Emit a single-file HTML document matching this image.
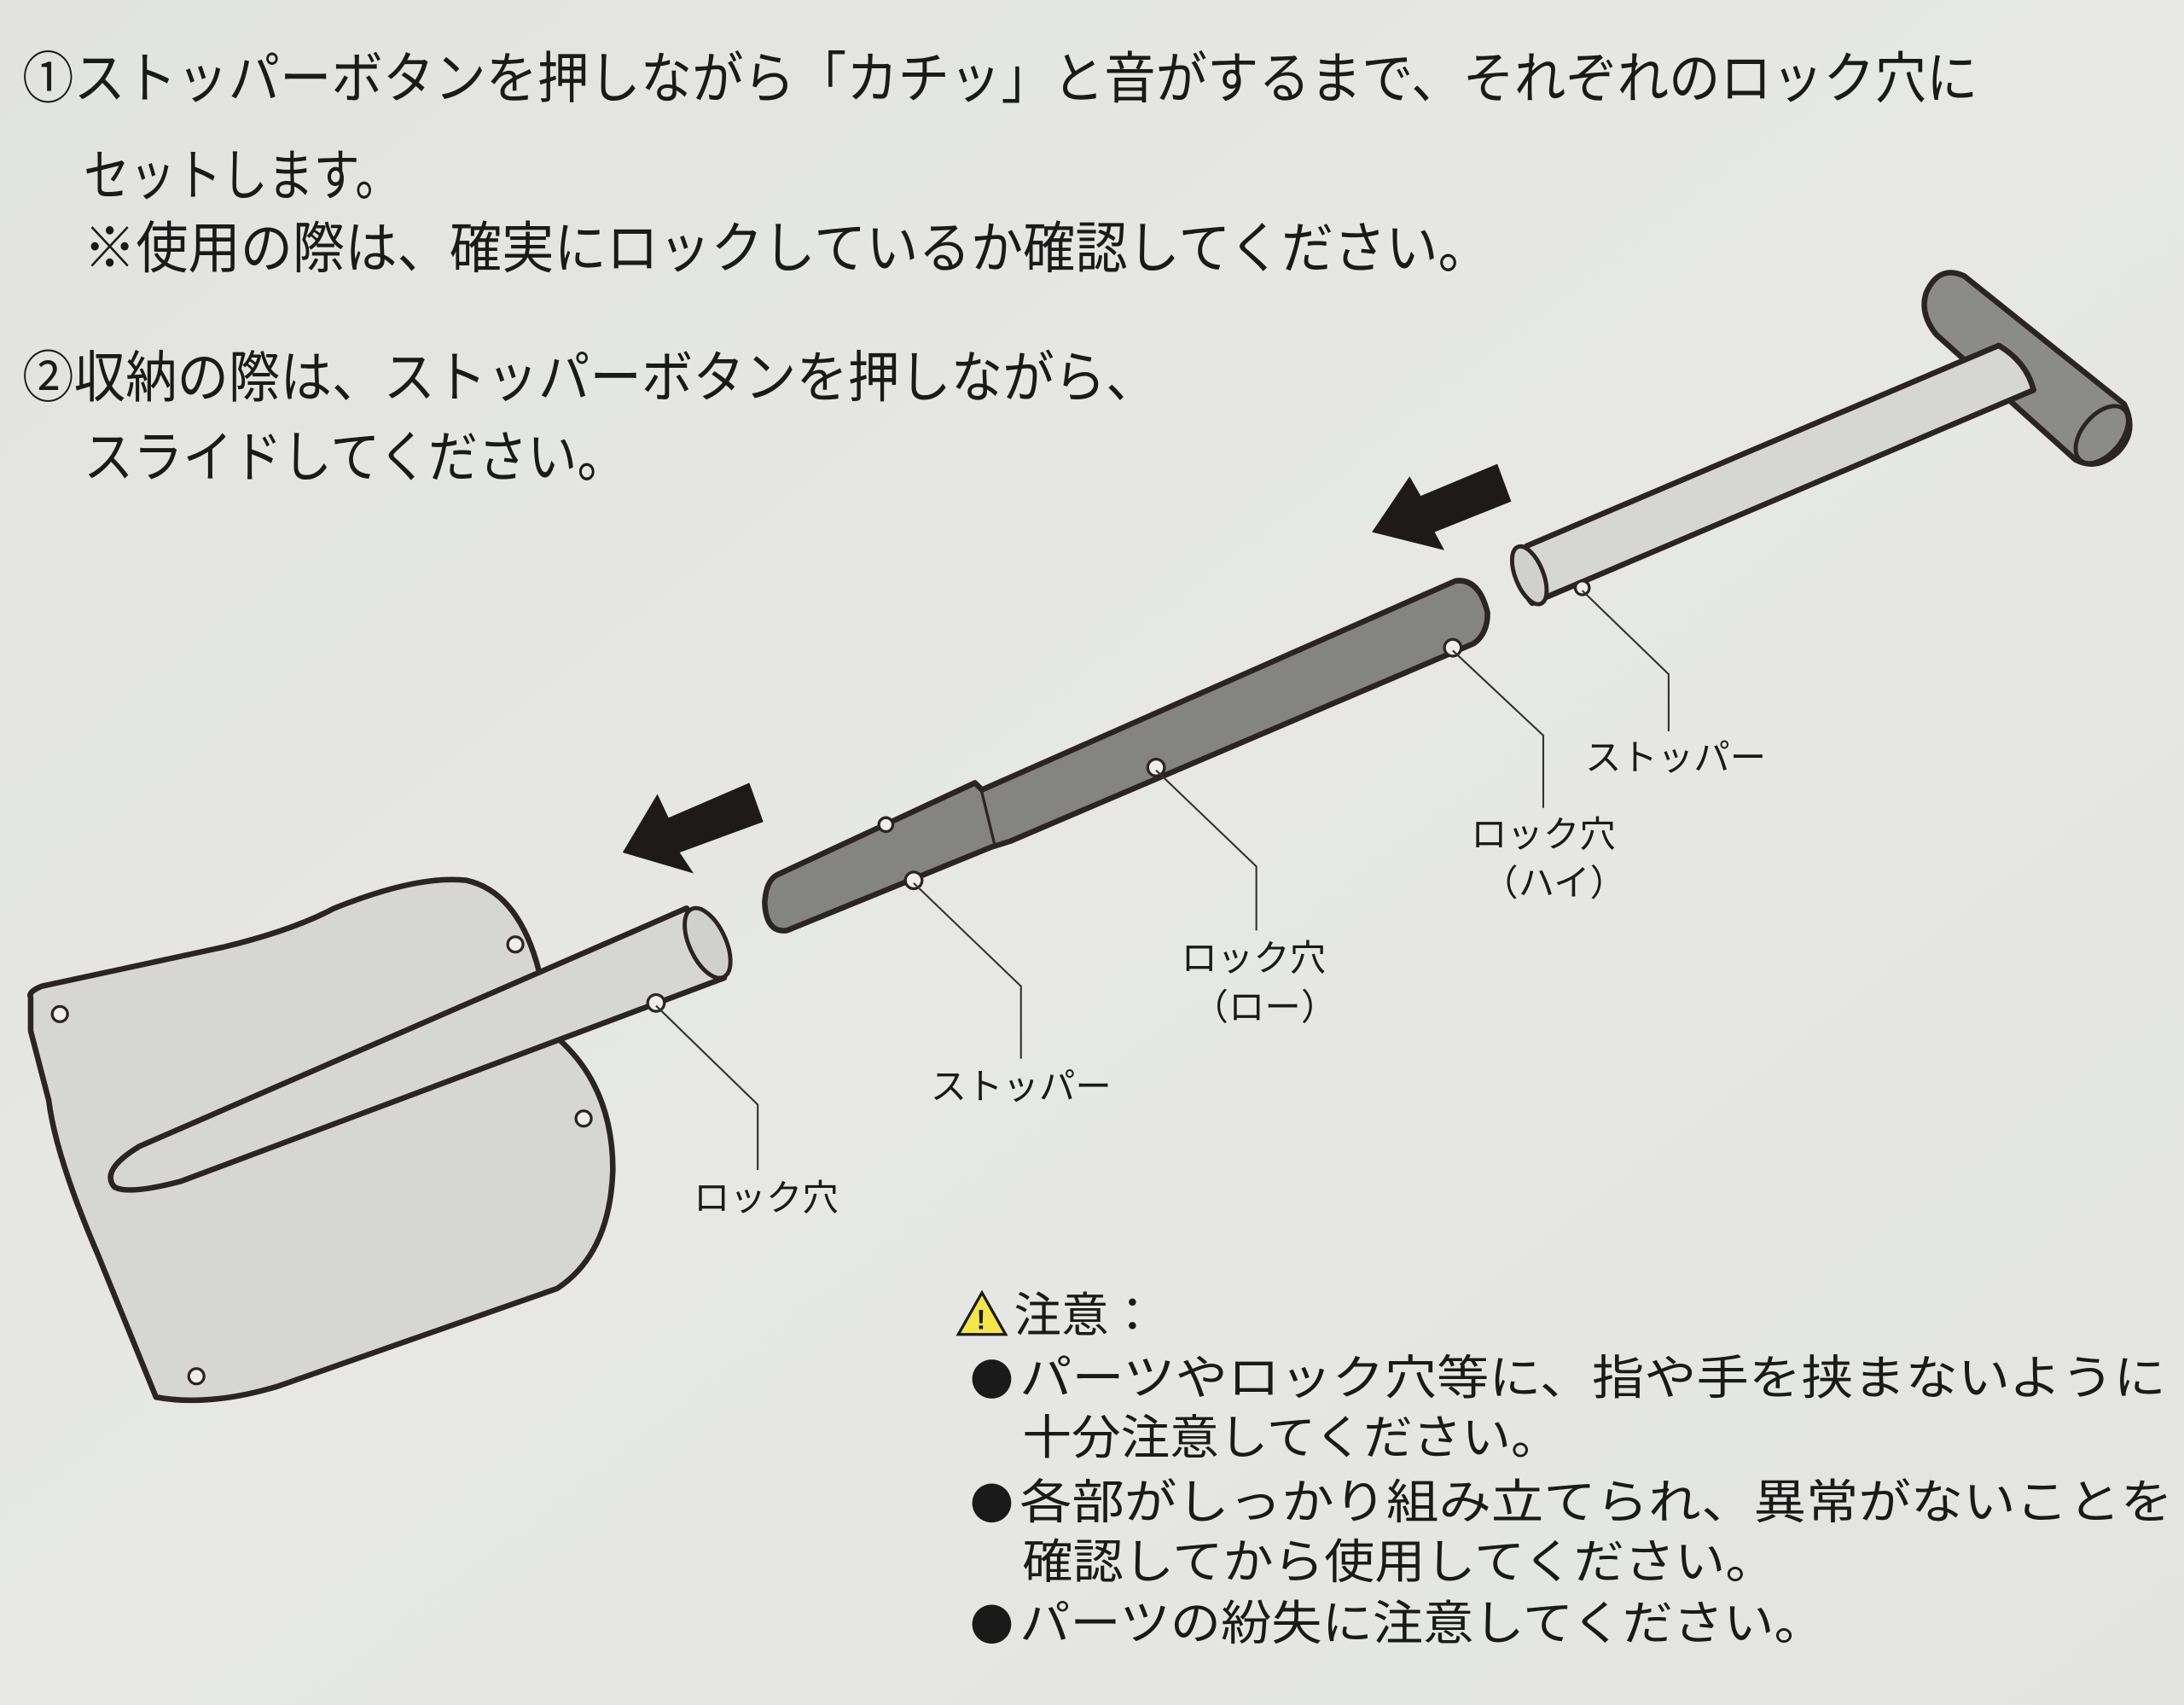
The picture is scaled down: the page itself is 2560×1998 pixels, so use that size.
<!DOCTYPE html>
<html><head><meta charset="utf-8">
<style>
html,body{margin:0;padding:0;background:#e4e5e3;}
svg{display:block;}
text{font-family:"Liberation Sans","Noto Sans CJK JP",sans-serif;fill:#1a1a1a;}
</style></head>
<body>
<svg width="2560" height="1998" viewBox="0 0 1568 1224" preserveAspectRatio="none" xmlns="http://www.w3.org/2000/svg">
<defs>
<linearGradient id="bg" x1="0" y1="0" x2="1" y2="1">
<stop offset="0" stop-color="#e2e3e1"/><stop offset="0.5" stop-color="#e7e8e6"/><stop offset="1" stop-color="#e3e4e2"/>
</linearGradient>
</defs>
<rect width="1568" height="1224" fill="url(#bg)"/>

<g font-size="40">
<text x="16" y="70" textLength="1404" lengthAdjust="spacingAndGlyphs">①ストッパーボタンを押しながら「カチッ」と音がするまで、それぞれのロック穴に</text>
<text x="60" y="140" textLength="228" lengthAdjust="spacingAndGlyphs">セットします。</text>
<text x="60" y="192" textLength="1010" lengthAdjust="spacingAndGlyphs">※使用の際は、確実にロックしているか確認してください。</text>
<text x="16" y="285" textLength="815" lengthAdjust="spacingAndGlyphs">②収納の際は、ストッパーボタンを押しながら、</text>
<text x="60" y="342" textLength="390" lengthAdjust="spacingAndGlyphs">スライドしてください。</text>
</g>

<path d="M22,716 Q20,712 30,708 L160,680 Q210,668 240,652 Q300,628 335,632 Q370,640 385,690 L400,745 Q440,780 440,840 Q438,900 400,925 L200,995 Q150,1010 112,1003 L70,900 Q40,830 35,790 L22,740 Z" fill="#d6d7d5" stroke="#2a2524" stroke-width="4" stroke-linejoin="round"/>
<circle cx="370" cy="678" r="5.5" fill="#eee" stroke="#2a2524" stroke-width="2"/>
<circle cx="43" cy="728" r="5.5" fill="#eee" stroke="#2a2524" stroke-width="2"/>
<circle cx="419" cy="803" r="5.5" fill="#eee" stroke="#2a2524" stroke-width="2"/>
<circle cx="141" cy="988" r="5.5" fill="#eee" stroke="#2a2524" stroke-width="2"/>
<path d="M493,652 L100,823 Q72,840 82,852 Q92,858 130,848 L520,702 Z" fill="#d6d7d5" stroke="#2a2524" stroke-width="4" stroke-linejoin="round"/>
<ellipse cx="508" cy="677" rx="13" ry="27" transform="rotate(-25 508 677)" fill="#d0d1cf" stroke="#2a2524" stroke-width="3"/>
<circle cx="471" cy="720" r="6" fill="#eee" stroke="#2a2524" stroke-width="2"/>

<path d="M558,628 L700,562 L705,567 L1045,417 Q1062,415 1068,440 Q1068,455 1058,462 L725,604 L712,608 L565,668 Q550,670 549,648 Q550,632 558,628 Z" fill="#848583" stroke="#2a2524" stroke-width="4" stroke-linejoin="round"/>
<line x1="704" y1="565" x2="714" y2="606" stroke="#2a2524" stroke-width="2"/>
<circle cx="636" cy="592" r="5" fill="#eee" stroke="#2a2524" stroke-width="2"/>
<circle cx="656" cy="632" r="6" fill="#eee" stroke="#2a2524" stroke-width="2"/>
<circle cx="830" cy="551" r="6" fill="#eee" stroke="#2a2524" stroke-width="2"/>
<circle cx="1043" cy="465" r="6" fill="#eee" stroke="#2a2524" stroke-width="2"/>

<path d="M1383,210 Q1392,190 1410,198 L1525,290 Q1535,310 1520,325 Q1505,338 1490,330 L1390,240 Q1378,225 1383,210 Z" fill="#8b8c8a" stroke="#2a2524" stroke-width="4" stroke-linejoin="round"/>
<ellipse cx="1509" cy="312" rx="14" ry="24" transform="rotate(40 1509 312)" fill="#8b8c8a" stroke="#2a2524" stroke-width="3"/>
<path d="M1096,392 L1435,248 Q1455,260 1460,280 L1100,433 Q1088,420 1096,392 Z" fill="#d6d7d5" stroke="#2a2524" stroke-width="4" stroke-linejoin="round"/>
<ellipse cx="1098" cy="413" rx="10" ry="22" transform="rotate(-22 1098 413)" fill="#d0d1cf" stroke="#2a2524" stroke-width="3"/>
<circle cx="1136" cy="422" r="5" fill="#eee" stroke="#2a2524" stroke-width="2"/>

<polygon points="538,562 548,590 488,612 498,627 447,612 472,570 480,587" fill="#1e1a19"/>
<polygon points="1075,333 1085,360 1030,382 1037,395 985,382 1012,342 1020,356" fill="#1e1a19"/>

<g stroke="#333" stroke-width="1.3" fill="none">
<polyline points="1136,424 1198,484 1198,525"/>
<polyline points="1043,467 1108,528 1108,580"/>
<polyline points="830,553 902,622 902,668"/>
<polyline points="656,634 733,708 733,760"/>
<polyline points="471,722 544,793 544,840"/>
</g>

<g font-size="26">
<text x="1138" y="553">ストッパー</text>
<text x="1056" y="608">ロック穴</text>
<text x="1064" y="643">（ハイ）</text>
<text x="848" y="697">ロック穴</text>
<text x="856" y="732">（ロー）</text>
<text x="668" y="789">ストッパー</text>
<text x="498" y="869">ロック穴</text>
</g>

<polygon points="705,928 722,958 688,958" fill="#f2e64a" stroke="#1e1a19" stroke-width="2"/>
<text x="701" y="954" font-size="20" font-weight="bold">!</text>
<g font-size="34">
<text x="728" y="956">注意：</text>
<circle cx="712" cy="990" r="14" fill="#1a1a1a"/>
<text x="732" y="1001" textLength="823" lengthAdjust="spacingAndGlyphs">パーツやロック穴等に、指や手を挟まないように</text>
<text x="734" y="1044" textLength="386" lengthAdjust="spacingAndGlyphs">十分注意してください。</text>
<circle cx="712" cy="1079" r="14" fill="#1a1a1a"/>
<text x="732" y="1090" textLength="828" lengthAdjust="spacingAndGlyphs">各部がしっかり組み立てられ、異常がないことを</text>
<text x="734" y="1133" textLength="541" lengthAdjust="spacingAndGlyphs">確認してから使用してください。</text>
<circle cx="712" cy="1166" r="14" fill="#1a1a1a"/>
<text x="732" y="1177" textLength="578" lengthAdjust="spacingAndGlyphs">パーツの紛失に注意してください。</text>
</g>
</svg>
</body></html>
